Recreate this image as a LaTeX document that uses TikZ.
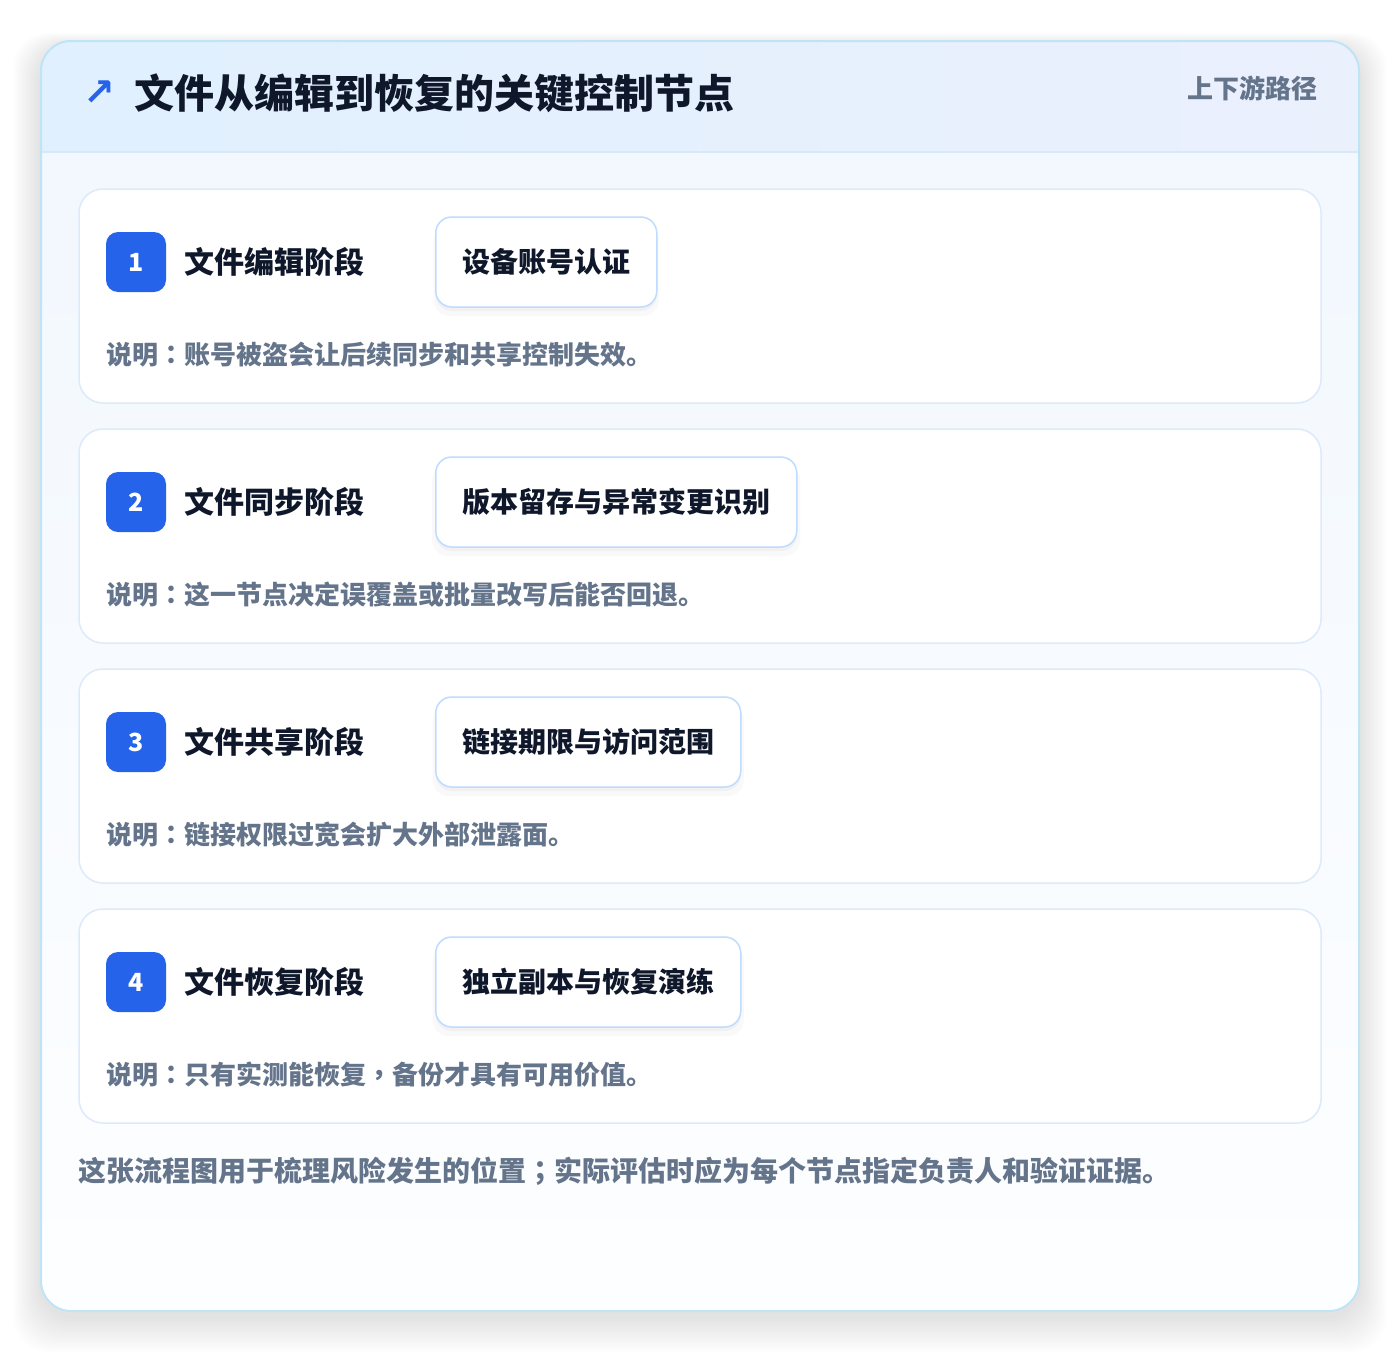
\documentclass[tikz,border=0pt]{standalone}
\usepackage{fontspec}
\setmainfont{Noto Sans CJK SC}
\newfontfamily\symfont{DejaVu Sans}
\newfontfamily\tcfont{Noto Sans CJK TC}
\newcommand{\cpunct}[1]{{\tcfont #1}}
\usetikzlibrary{positioning,shadows}

\definecolor{accent}{HTML}{2563EB}
\definecolor{ink}{HTML}{0F172A}
\definecolor{muted}{HTML}{64748B}
\definecolor{headA}{HTML}{E0F0FE}
\definecolor{headB}{HTML}{EBF0FD}
\definecolor{bodyA}{HTML}{F1F7FE}
\definecolor{bodyB}{HTML}{FDFEFF}
\definecolor{headline}{HTML}{D6E9FA}
\definecolor{panelline}{HTML}{BFE3F7}
\definecolor{cardline}{HTML}{DCEAFB}
\definecolor{tagline}{HTML}{BFDBFE}

\begin{document}
\begin{tikzpicture}[x=1pt,y=-1pt,
    card/.style={draw=cardline, line width=1.5pt, rounded corners=24pt, fill=white,
      minimum width=1242pt, minimum height=214pt, inner sep=0pt},
    badge/.style={fill=accent, rounded corners=12pt, minimum size=60pt, inner sep=0pt,
      text=white, font=\fontsize{25}{25}\selectfont\bfseries},
    stage/.style={anchor=west, inner sep=0pt, text=ink, font=\fontsize{30}{30}\selectfont\bfseries},
    tag/.style={anchor=west, draw=tagline, line width=1.5pt, fill=white, rounded corners=16pt,
      minimum height=90pt, inner xsep=26.5pt, text=ink, font=\fontsize{28}{28}\selectfont\bfseries,
      general shadow={shadow xshift=0pt, shadow yshift=-8pt, shadow scale=1.02, opacity=0.025, fill=black},
      general shadow={shadow xshift=0pt, shadow yshift=-4pt, opacity=0.03, fill=black}},
    note/.style={anchor=west, inner sep=0pt, text=muted, font=\fontsize{26}{26}\selectfont\bfseries}]
  \useasboundingbox[fill=white] (0,0) rectangle (1400,1352);

  % Pannello
  \foreach \s in {1,...,14}
    \fill[black, opacity=0.009, rounded corners=36pt]
      (41-2*\s,47-\s) rectangle (1359+2*\s,1317+2.5*\s);
  \begin{scope}
    \clip[rounded corners=30pt] (41,41) rectangle (1359,1311);
    \shade[top color=bodyA, bottom color=bodyB] (41,41) rectangle (1359,1311);
    \shade[left color=headA, right color=headB] (41,41) rectangle (1359,152);
    \draw[headline, line width=1.5pt] (41,152) -- (1359,152);
  \end{scope}
  \draw[panelline, line width=2pt, rounded corners=30pt] (41,41) rectangle (1359,1311);

  % Titolo
  \node[inner sep=0pt, text=accent, font=\symfont\fontsize{38}{38}\selectfont\bfseries] (icon) at (99,93) {↗};
  \node[anchor=west, inner sep=0pt, text=ink, font=\fontsize{40}{40}\selectfont\bfseries] (title) at (134,93)
    {文件从编辑到恢复的关键控制节点};
  \node[anchor=east, inner sep=0pt, text=muted, font=\fontsize{26}{26}\selectfont\bfseries] (path) at (1318,88)
    {上下游路径};

  % Schede
  \node[card] (card1) at (700,296) {};
  \node[card] (card2) at (700,536) {};
  \node[card] (card3) at (700,776) {};
  \node[card] (card4) at (700,1016) {};

  % Fase 1
  \node[badge] (b1) at (136,262) {1};
  \node[stage, right=18pt of b1] (s1) {文件编辑阶段};
  \node[tag] (t1) at (435,262) {设备账号认证};
  \node[note] (n1) at (106,355) {说明\cpunct{：}账号被盗会让后续同步和共享控制失效。};

  % Fase 2
  \node[badge] (b2) at (136,502) {2};
  \node[stage, right=18pt of b2] (s2) {文件同步阶段};
  \node[tag] (t2) at (435,502) {版本留存与异常变更识别};
  \node[note] (n2) at (106,595) {说明\cpunct{：}这一节点决定误覆盖或批量改写后能否回退。};

  % Fase 3
  \node[badge] (b3) at (136,742) {3};
  \node[stage, right=18pt of b3] (s3) {文件共享阶段};
  \node[tag] (t3) at (435,742) {链接期限与访问范围};
  \node[note] (n3) at (106,835) {说明\cpunct{：}链接权限过宽会扩大外部泄露面。};

  % Fase 4
  \node[badge] (b4) at (136,982) {4};
  \node[stage, right=18pt of b4] (s4) {文件恢复阶段};
  \node[tag] (t4) at (435,982) {独立副本与恢复演练};
  \node[note] (n4) at (106,1075) {说明\cpunct{：}只有实测能恢复\cpunct{，}备份才具有可用价值。};

  % Nota finale
  \node[note, font=\fontsize{28}{28}\selectfont\bfseries] (foot) at (78,1171)
    {这张流程图用于梳理风险发生的位置\cpunct{；}实际评估时应为每个节点指定负责人和验证证据。};
\end{tikzpicture}
\end{document}
